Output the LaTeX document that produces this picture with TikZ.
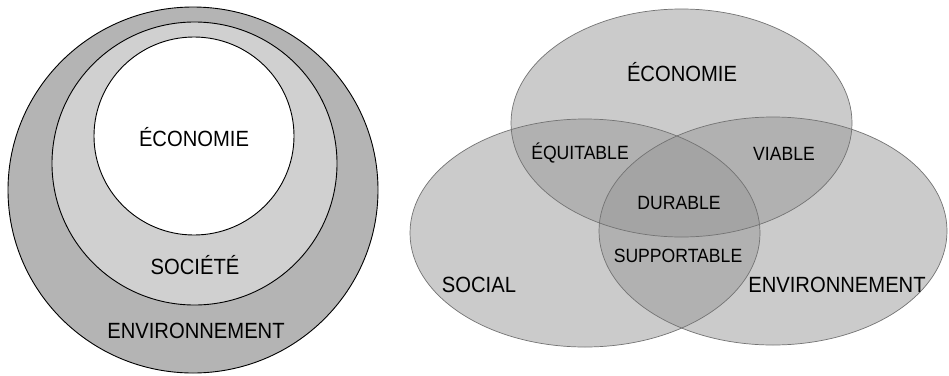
\documentclass[tikz,border=0pt]{standalone}
\usepackage{fontspec}
\setmainfont{Liberation Sans}
\newcommand{\talltext}[1]{\scalebox{1}[1.09]{#1}}
\begin{document}
\begin{tikzpicture}[x=1pt,y=-1pt,
  big/.style={font=\fontsize{20.2}{24}\selectfont, anchor=base, inner sep=0pt},
  small/.style={font=\fontsize{17.6}{21}\selectfont, anchor=base, inner sep=0pt},
  ring/.style={draw=black, line width=0.9pt},
  venn/.style={fill=black!40, fill opacity=0.5, draw=none},
  vennline/.style={draw=black!55, line width=0.7pt}]
\useasboundingbox (0,0) rectangle (949,375);
% left: nested circles
\fill[white] (0,0) rectangle (949,375);
\draw[ring, fill=black!29.5] (193,190) ellipse (185 and 183);
\draw[ring, fill=black!18.5] (194.5,163.5) ellipse (142.5 and 141.5);
\draw[ring, fill=white] (194,136) ellipse (100 and 99);
\node[big] (eco1) at (194,146) {\talltext{ÉCONOMIE}};
\node[big] (soc1) at (195,274) {\talltext{SOCIÉTÉ}};
\node[big] (env1) at (196,338) {\talltext{ENVIRONNEMENT}};
% right: Venn diagram
\path[venn] (681.5,123) ellipse (170.5 and 114);
\path[venn] (585,233) ellipse (175 and 114);
\path[venn] (773,231) ellipse (174 and 114);
\draw[vennline] (681.5,123) ellipse (170.5 and 114);
\draw[vennline] (585,233) ellipse (175 and 114);
\draw[vennline] (773,231) ellipse (174 and 114);
\node[big] (eco2) at (682,81) {\talltext{ÉCONOMIE}};
\node[small] (equ) at (580,159) {\talltext{ÉQUITABLE}};
\node[small] (via) at (784,160) {\talltext{VIABLE}};
\node[small] (dur) at (679,209) {\talltext{DURABLE}};
\node[small] (sup) at (678,262) {\talltext{SUPPORTABLE}};
\node[big] (soc2) at (479,292) {\talltext{SOCIAL}};
\node[big] (env2) at (837,292) {\talltext{ENVIRONNEMENT}};
\end{tikzpicture}
\end{document}
